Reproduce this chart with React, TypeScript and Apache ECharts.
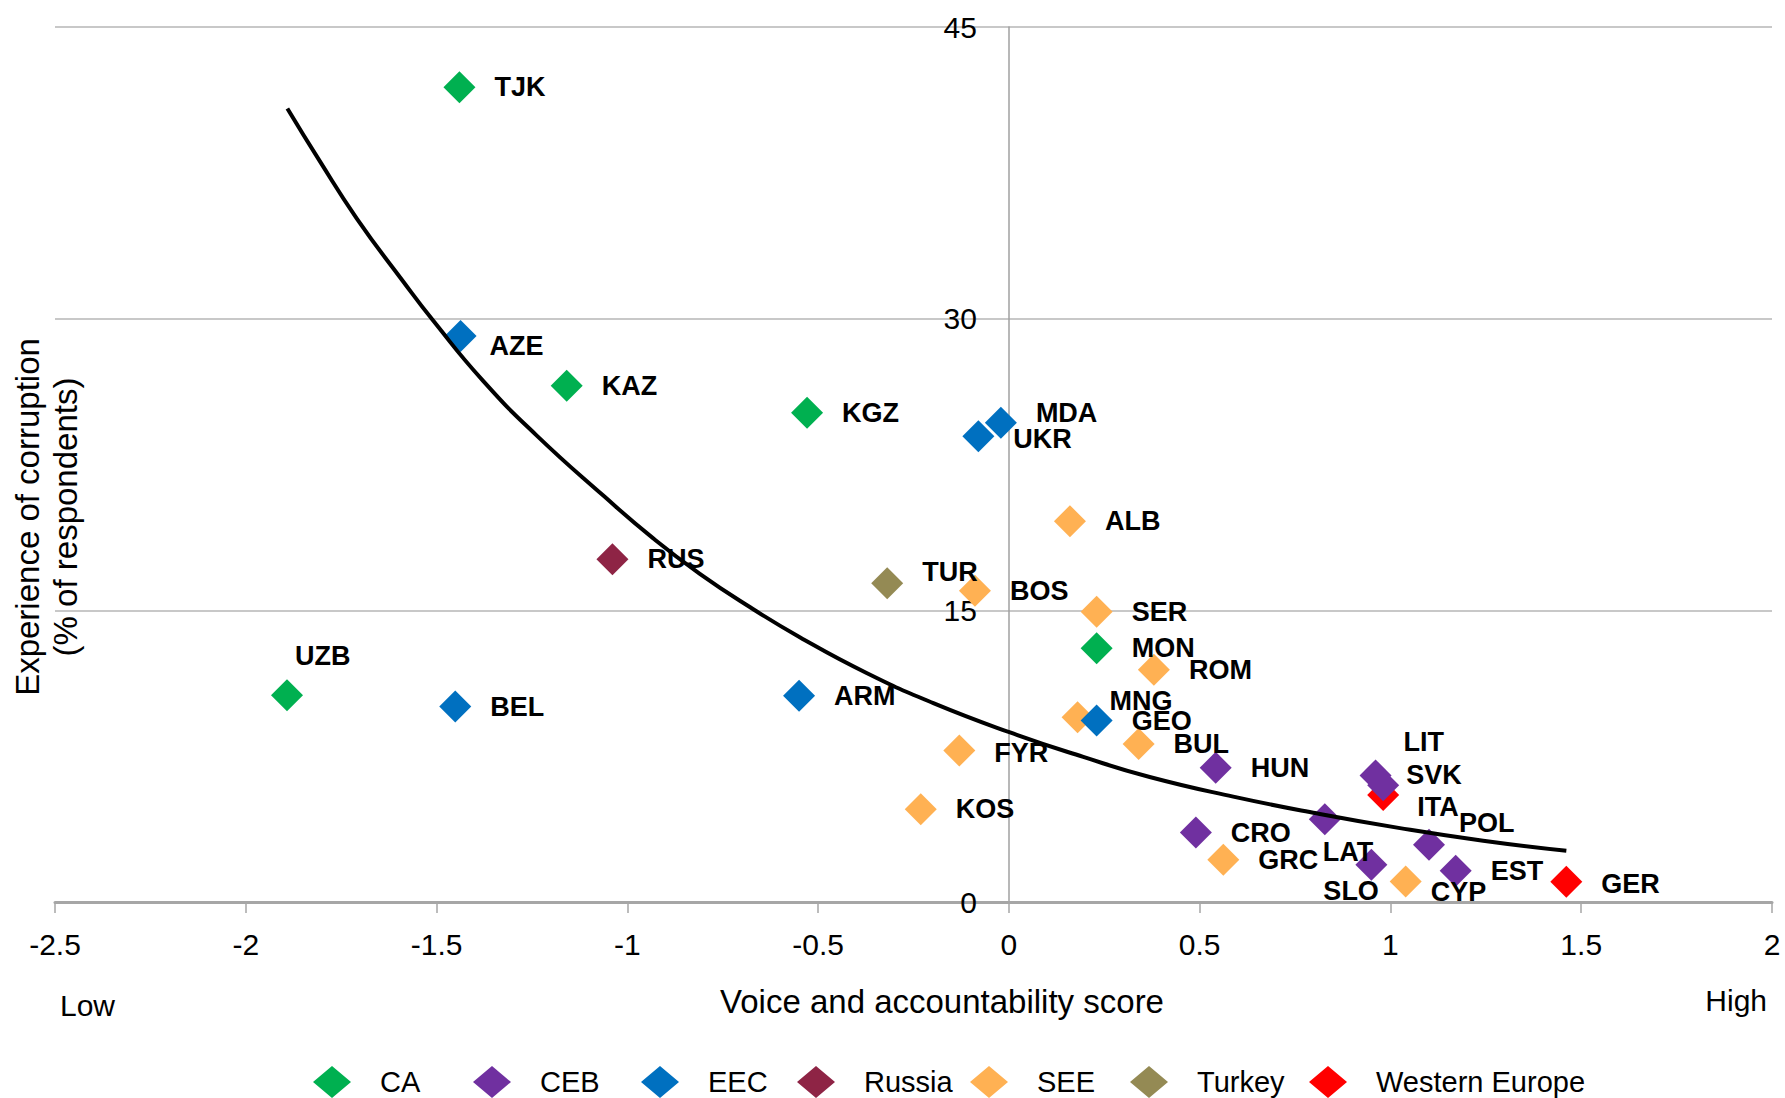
import React, { useEffect, useRef } from "react";
import * as echarts from "echarts";

// ---------- data ----------
const regionNames = ["CA", "CEB", "EEC", "Russia", "SEE", "Turkey", "Western Europe"];
const regionColors = ["#00b050", "#7030a0", "#0070c0", "#8e2445", "#ffb153", "#948a54", "#ff0000"];

const countryCodes = [
  "TJK", "KAZ", "KGZ", "UZB", "MON",
  "AZE", "MDA", "UKR", "BEL", "ARM", "GEO",
  "RUS",
  "TUR",
  "ALB", "BOS", "SER", "ROM", "MNG", "BUL", "FYR", "KOS", "GRC", "CYP",
  "HUN", "LIT", "SVK", "CRO", "LAT", "POL", "SLO", "EST",
  "ITA", "GER",
];
const countryRegions = [
  "CA", "CA", "CA", "CA", "CA",
  "EEC", "EEC", "EEC", "EEC", "EEC", "EEC",
  "Russia",
  "Turkey",
  "SEE", "SEE", "SEE", "SEE", "SEE", "SEE", "SEE", "SEE", "SEE", "SEE",
  "CEB", "CEB", "CEB", "CEB", "CEB", "CEB", "CEB", "CEB",
  "Western Europe", "Western Europe",
];
const voiceScores = [
  -1.44, -1.159, -0.529, -1.892, 0.23,
  -1.437, -0.021, -0.08, -1.451, -0.55, 0.23,
  -1.039,
  -0.319,
  0.16, -0.089, 0.23, 0.38, 0.18, 0.34, -0.13, -0.231, 0.562, 1.04,
  0.542, 0.961, 0.981, 0.49, 0.828, 1.101, 0.95, 1.171,
  0.981, 1.461,
];
const corruptionShares = [
  41.9, 26.55, 25.16, 10.63, 13.05,
  29.11, 24.65, 23.95, 10.05, 10.61, 9.33,
  17.63,
  16.39,
  19.58, 16.01, 14.93, 11.94, 9.5, 8.13, 7.79, 4.77, 2.17, 1.06,
  6.9, 6.51, 6.0, 3.57, 4.25, 2.94, 1.91, 1.61,
  5.5, 1.04,
];

// trend line
const trendVoice = [-1.891, -1.806, -1.709, -1.587, -1.509, -1.378, -1.238, -1.063, -0.932, -0.81, -0.679, -0.548, -0.373, -0.198, 0.003, 0.195, 0.369, 0.588, 0.806, 1.025, 1.243, 1.461];
const trendCorruption = [40.81, 38.1, 35.15, 31.9, 29.9, 26.8, 24.0, 20.9, 18.7, 16.88, 15.17, 13.62, 11.78, 10.23, 8.72, 7.46, 6.43, 5.42, 4.56, 3.8, 3.15, 2.63];

const xAxisMin = -2.5;
const xAxisMax = 2;
const xAxisStep = 0.5;
const yAxisMin = 0;
const yAxisMax = 45;
const yAxisStep = 15;

const yTitleLines = ["Experience of corruption", "(% of respondents)"];
const xTitle = "Voice and accountability score";
const lowText = "Low";
const highText = "High";

// ---------- layout / style (not data) ----------
const FONT = "'Liberation Sans', Arial, sans-serif";
const GRID_LEFT = 55;
const GRID_RIGHT = 13;
const CHART_W = 1785;
const labelNudges: Record<string, [number, number]> = {
  AZE: [-6, 10],
  MDA: [0, -10],
  UKR: [0, 3],
  TUR: [0, -11],
  MNG: [-3, -16],
  UZB: [-27, -39],
  LIT: [-7, -33],
  SVK: [-12, -10],
  ITA: [-1, 12],
  POL: [-5, -22],
  LAT: [-37, 33],
  SLO: [-83, 26],
  CYP: [-10, 11],
  FYR: [0, 2],
  GER: [0, 2],
};
const legendLefts = [313, 473, 641, 797, 970, 1130, 1309];

export default function App() {
  const ref = useRef<HTMLDivElement>(null);

  useEffect(() => {
    if (!ref.current) return;
    const chart = echarts.init(ref.current, undefined, { renderer: "svg" });

    const plotW = CHART_W - GRID_LEFT - GRID_RIGHT;
    const zeroX = ((0 - xAxisMin) / (xAxisMax - xAxisMin)) * plotW;

    const scatterSeries = regionNames
      .map((region, ri) => {
        const data = countryCodes
          .map((code, i) => ({ code, i }))
          .filter((d) => countryRegions[d.i] === region)
          .map(({ code, i }) => {
            const item: any = { name: code, value: [voiceScores[i], corruptionShares[i]] };
            if (labelNudges[code]) item.label = { offset: labelNudges[code] };
            return item;
          });
        return {
          type: "scatter",
          name: region,
          symbol: "diamond",
          symbolSize: 32,
          itemStyle: { color: regionColors[ri], opacity: 1 },
          label: {
            show: true,
            position: "right",
            distance: 19,
            formatter: (p: any) => p.name,
            fontFamily: FONT,
            fontWeight: "bold",
            fontSize: 27,
            color: "#000",
          },
          emphasis: { disabled: true },
          data,
        };
      })
      .reverse();

    const trendSeries = {
      type: "line",
      name: "trend",
      data: trendVoice.map((x, i) => [x, trendCorruption[i]]),
      smooth: 0.5,
      showSymbol: false,
      symbol: "none",
      lineStyle: { color: "#000", width: 4 },
      emphasis: { disabled: true },
      silent: true,
    };

    const legends = regionNames.map((name, i) => ({
      data: [name],
      left: legendLefts[i],
      top: 1066,
      padding: 0,
      icon: "diamond",
      itemWidth: 38,
      itemHeight: 32,
      itemGap: 0,
      selectedMode: false,
      textStyle: {
        fontFamily: FONT,
        fontSize: 29,
        color: "#000",
        padding: [0, 0, 0, 24],
      },
    }));

    chart.setOption({
      animation: false,
      backgroundColor: "#fff",
      grid: {
        left: GRID_LEFT,
        right: GRID_RIGHT,
        top: 27,
        bottom: 196,
        containLabel: false,
        outerBoundsMode: "none",
      },
      legend: legends,
      xAxis: {
        type: "value",
        min: xAxisMin,
        max: xAxisMax,
        interval: xAxisStep,
        axisLine: { show: true, onZero: false, lineStyle: { color: "#a6a6a6", width: 3 } },
        axisTick: { show: true, length: 11, lineStyle: { color: "#a6a6a6", width: 1.5 } },
        axisLabel: { fontFamily: FONT, fontSize: 30, color: "#000", margin: 27 },
        splitLine: { show: false },
      },
      yAxis: {
        type: "value",
        min: yAxisMin,
        max: yAxisMax,
        interval: yAxisStep,
        position: "left",
        offset: -zeroX,
        axisLine: { show: true, onZero: false, lineStyle: { color: "#a0a0a0", width: 1.5 } },
        axisTick: { show: false },
        axisLabel: { fontFamily: FONT, fontSize: 30, color: "#000", margin: 32 },
        splitLine: { show: true, lineStyle: { color: "#c8c8c8", width: 2 } },
      },
      graphic: [
        {
          type: "text",
          x: 46,
          y: 517,
          rotation: Math.PI / 2,
          style: {
            text: yTitleLines.join("\n"),
            font: `33px ${FONT}`,
            fill: "#000",
            textAlign: "center",
            textVerticalAlign: "middle",
            lineHeight: 38,
          },
        },
        {
          type: "text",
          x: 942,
          y: 1001,
          style: {
            text: xTitle,
            font: `33px ${FONT}`,
            fill: "#000",
            textAlign: "center",
            textVerticalAlign: "middle",
          },
        },
        {
          type: "text",
          x: 60,
          y: 1005,
          style: {
            text: lowText,
            font: `30px ${FONT}`,
            fill: "#000",
            textAlign: "left",
            textVerticalAlign: "middle",
          },
        },
        {
          type: "text",
          x: 1767,
          y: 1000,
          style: {
            text: highText,
            font: `30px ${FONT}`,
            fill: "#000",
            textAlign: "right",
            textVerticalAlign: "middle",
          },
        },
      ],
      series: [...scatterSeries, trendSeries],
    });

    return () => chart.dispose();
  }, []);

  return (
    <div
      ref={ref}
      style={{ position: "fixed", left: 0, top: 0, width: 1785, height: 1098, background: "#fff" }}
    />
  );
}
